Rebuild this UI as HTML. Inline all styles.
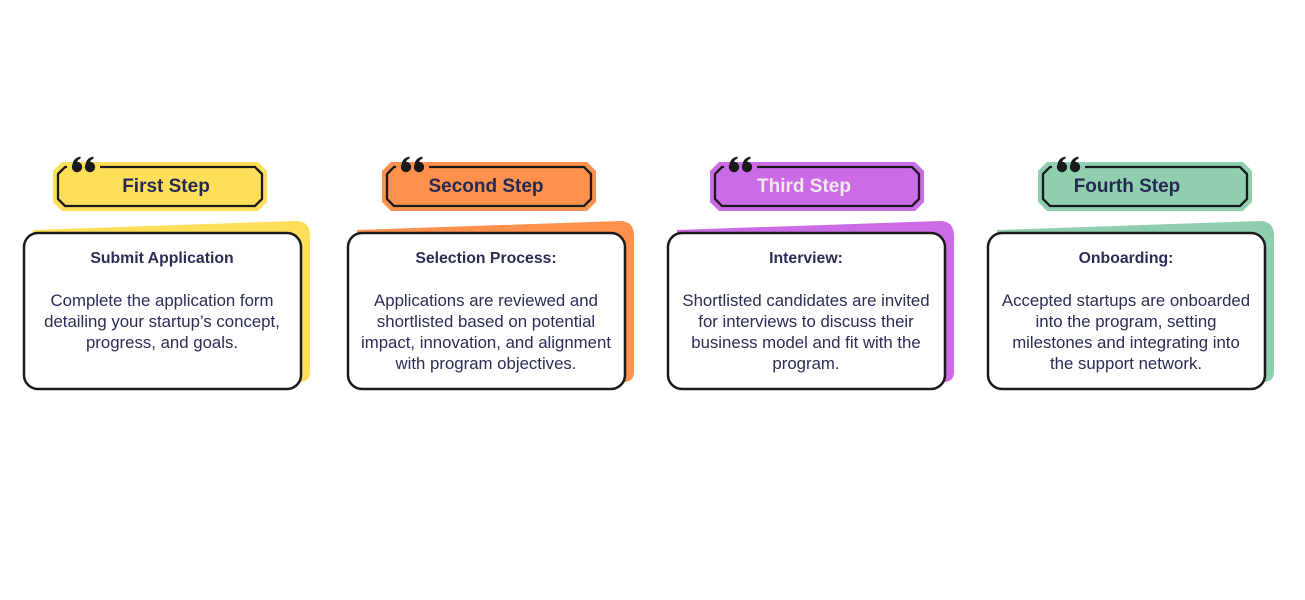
<!DOCTYPE html>
<html><head><meta charset="utf-8"><style>
html,body{margin:0;padding:0;background:#fff;}
body{width:1305px;height:600px;position:relative;overflow:hidden;font-family:"Liberation Sans",sans-serif;}
svg{position:absolute;left:0;top:0;}
.t{position:absolute;top:175px;font-weight:bold;font-size:19px;line-height:24px;color:#262a52;white-space:nowrap;transform:translateX(-50%);}
.c{position:absolute;top:248px;width:278px;text-align:center;color:#2b2d55;font-size:16.8px;line-height:21px;white-space:nowrap;}
.c b{display:block;margin-bottom:21px;font-size:15.8px;}
</style></head><body>
<svg width="1305" height="600" viewBox="0 0 1305 600">
<defs>
<g id="q">
<circle cx="0" cy="0" r="5.2" fill="#1a1a1a"/>
<path d="M-4.5,-2 Q-4,-9 3.5,-10.5 L3.5,-8.3 Q-0.5,-7 0,-3.5 Z" fill="#1a1a1a"/>
</g>
</defs>
<g>
<path d="M33,230 L296,221 Q310,221 310,236 L310,372 Q310,381 301,382 L33,382 Z" fill="#ffde59"/>
<rect x="24" y="233" width="277" height="156" rx="14" fill="#fff" stroke="#1a1a1a" stroke-width="2.5"/>
<polygon points="62,162 258,162 267,171 267,202 258,211 62,211 53,202 53,171" fill="#ffde59"/>
<path d="M100,167 L255,167 L262,174 L262,199 L255,206 L65,206 L58,199 L58,174 L65,167 L67,167" fill="none" stroke="#1a1a1a" stroke-width="2.3"/>
<use href="#q" x="77" y="167"/><use href="#q" x="90" y="167"/>
</g>
<g>
<path d="M357,230 L620,221 Q634,221 634,236 L634,372 Q634,381 625,382 L357,382 Z" fill="#ff914d"/>
<rect x="348" y="233" width="277" height="156" rx="14" fill="#fff" stroke="#1a1a1a" stroke-width="2.5"/>
<polygon points="391,162 587,162 596,171 596,202 587,211 391,211 382,202 382,171" fill="#ff914d"/>
<path d="M429,167 L584,167 L591,174 L591,199 L584,206 L394,206 L387,199 L387,174 L394,167 L396,167" fill="none" stroke="#1a1a1a" stroke-width="2.3"/>
<use href="#q" x="406" y="167"/><use href="#q" x="419" y="167"/>
</g>
<g>
<path d="M677,230 L940,221 Q954,221 954,236 L954,372 Q954,381 945,382 L677,382 Z" fill="#cb6ce6"/>
<rect x="668" y="233" width="277" height="156" rx="14" fill="#fff" stroke="#1a1a1a" stroke-width="2.5"/>
<polygon points="719,162 915,162 924,171 924,202 915,211 719,211 710,202 710,171" fill="#cb6ce6"/>
<path d="M757,167 L912,167 L919,174 L919,199 L912,206 L722,206 L715,199 L715,174 L722,167 L724,167" fill="none" stroke="#1a1a1a" stroke-width="2.3"/>
<use href="#q" x="734" y="167"/><use href="#q" x="747" y="167"/>
</g>
<g>
<path d="M997,230 L1260,221 Q1274,221 1274,236 L1274,372 Q1274,381 1265,382 L997,382 Z" fill="#8fcfb0"/>
<rect x="988" y="233" width="277" height="156" rx="14" fill="#fff" stroke="#1a1a1a" stroke-width="2.5"/>
<polygon points="1047,162 1243,162 1252,171 1252,202 1243,211 1047,211 1038,202 1038,171" fill="#8fcfb0"/>
<path d="M1085,167 L1240,167 L1247,174 L1247,199 L1240,206 L1050,206 L1043,199 L1043,174 L1050,167 L1052,167" fill="none" stroke="#1a1a1a" stroke-width="2.3"/>
<use href="#q" x="1062" y="167"/><use href="#q" x="1075" y="167"/>
</g>
</svg>
<div class="t" style="left:166px">First Step</div>
<div class="t" style="left:486px">Second Step</div>
<div class="t" style="left:804px;color:#f3e8ee">Third Step</div>
<div class="t" style="left:1127px">Fourth Step</div>
<div class="c" style="left:23px"><b>Submit Application</b>Complete the application form<br>detailing your startup’s concept,<br>progress, and goals.</div>
<div class="c" style="left:347px"><b>Selection Process:</b>Applications are reviewed and<br>shortlisted based on potential<br>impact, innovation, and alignment<br>with program objectives.</div>
<div class="c" style="left:667px"><b>Interview:</b>Shortlisted candidates are invited<br>for interviews to discuss their<br>business model and fit with the<br>program.</div>
<div class="c" style="left:987px"><b>Onboarding:</b>Accepted startups are onboarded<br>into the program, setting<br>milestones and integrating into<br>the support network.</div>
</body></html>
